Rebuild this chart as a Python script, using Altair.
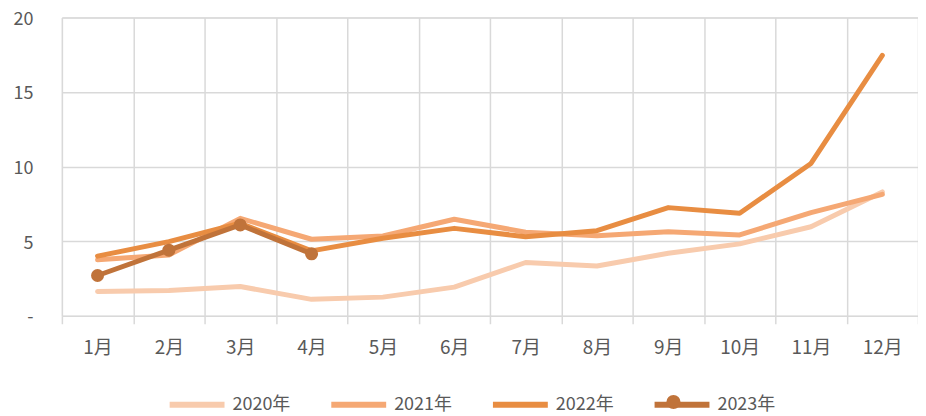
import altair as alt
import pandas as pd

months = ["1月", "2月", "3月", "4月", "5月", "6月", "7月", "8月", "9月", "10月", "11月", "12月"]
series_names = ["2020年", "2021年", "2022年", "2023年"]
colors = ["#F8CBAD", "#F5A874", "#E88D42", "#C0733A"]

s2020 = [1.63, 1.70, 1.96, 1.10, 1.25, 1.92, 3.57, 3.34, 4.19, 4.82, 5.97, 8.30]
s2021 = [3.75, 4.08, 6.53, 5.13, 5.35, 6.47, 5.60, 5.37, 5.64, 5.42, 6.91, 8.14]
s2022 = [4.00, 4.97, 6.20, 4.35, 5.20, 5.86, 5.30, 5.70, 7.25, 6.87, 10.21, 17.46]
s2023 = [2.70, 4.40, 6.09, 4.15]

y_ticks = [0, 5, 10, 15, 20]

rows = []
for name, vals in zip(series_names, [s2020, s2021, s2022, s2023]):
    for i, v in enumerate(vals):
        rows.append({"month": months[i], "idx": i, "series": name, "value": v})
df = pd.DataFrame(rows)

FONT = "Noto Sans CJK SC"
GRID = "#D9D9D9"
TXT = "#595959"

x = alt.X(
    "month:N",
    sort=months,
    scale=alt.Scale(type="band", paddingInner=0, paddingOuter=0),
    axis=alt.Axis(
        title=None, labelAngle=0, tickBand="extent", grid=True,
        gridColor=GRID, gridWidth=1.5, ticks=True, tickColor=GRID,
        tickWidth=1.5, tickSize=8, domain=False, labelFontSize=19,
        labelColor=TXT, labelFont=FONT, labelPadding=15,
    ),
)
y = alt.Y(
    "value:Q",
    scale=alt.Scale(domain=[0, 20], nice=False),
    axis=alt.Axis(
        title=None, values=y_ticks,
        labelExpr="datum.value == 0 ? '-\u00a0\u00a0' : datum.label",
        domain=False, ticks=False, grid=True, gridColor=GRID, gridWidth=1.5,
        labelPadding=29, labelFontSize=18, labelColor=TXT, labelFont=FONT,
        labelOffset=2,
    ),
)

SYM = 55
LEG_X = 105
LEG_Y = 357.5
STRIDE = 160
DOT = 200
DOT_R = DOT ** 0.5 / 2

lines = alt.Chart(df).mark_line(strokeWidth=5, strokeCap="round", strokeJoin="round").encode(
    x=x, y=y,
    color=alt.Color(
        "series:N",
        scale=alt.Scale(domain=series_names, range=colors),
        legend=alt.Legend(
            title=None, orient="none", legendX=LEG_X, legendY=LEG_Y,
            direction="horizontal", columnPadding=29, labelOffset=5,
            labelFontSize=18, labelColor=TXT, labelFont=FONT,
            symbolType="stroke", symbolSize=SYM * SYM, symbolStrokeWidth=6,
            padding=0,
        ),
    ),
    order=alt.Order("idx:Q"),
)

pts = alt.Chart(df).transform_filter("datum.series == '2023年'").mark_circle(
    size=170, opacity=1
).encode(
    x=x, y=y,
    fill=alt.Fill(
        "series:N",
        scale=alt.Scale(domain=[series_names[3]], range=[colors[3]]),
        legend=alt.Legend(
            title=None, orient="none",
            legendX=LEG_X + 3 * STRIDE + SYM / 2 - DOT_R,
            legendY=LEG_Y + SYM / 2 - DOT_R, symbolType="circle", symbolSize=DOT,
            labelExpr="''", labelFontSize=1, labelOffset=0, padding=0,
            symbolStrokeWidth=0, symbolOpacity=1,
        ),
    ),
)

chart = alt.layer(lines, pts).properties(
    width=858, height=299,
    padding={"left": 54, "top": 9, "right": 0, "bottom": 98},
    autosize=alt.AutoSizeParams(type="none"),
).configure_view(stroke=None).configure(background="white")

chart.save("out.html", embed_options={"renderer": "svg", "actions": False})
